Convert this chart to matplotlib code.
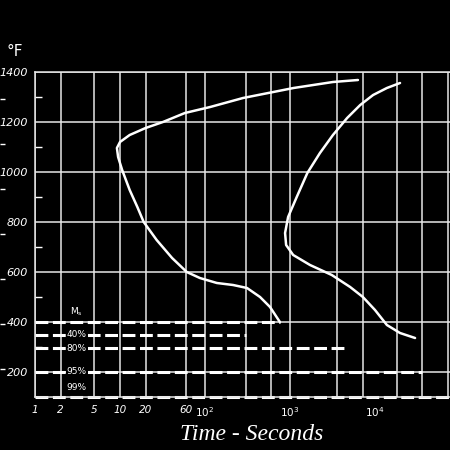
import numpy as np
import matplotlib as mpl
mpl.use('Agg')
import matplotlib.pyplot as plt

# start of transformation (time in s, temperature in F)
start_time = [6300, 3200, 1100, 280, 115, 58, 32, 20, 13, 10, 9.2, 9.5, 10.6,
              13, 16, 19, 27, 41, 61, 87, 138, 214, 312, 444, 582, 760]
start_temp = [1368, 1360, 1336, 1296, 1260, 1236, 1200, 1176, 1148, 1120, 1096,
              1060, 1008, 928, 860, 800, 728, 656, 600, 576, 556, 548, 536,
              500, 460, 400]

# end of transformation
finish_time = [19700, 13800, 9500, 6700, 4700, 3200, 2250, 1600, 1200, 950,
               875, 900, 1090, 1720, 3100, 5100, 7200, 10000, 13800, 19700, 29600]
finish_temp = [1356, 1336, 1308, 1268, 1216, 1148, 1076, 996, 900, 820, 756,
               708, 668, 628, 588, 540, 500, 448, 388, 356, 336]

# martensite lines
mart_temp = [400, 350, 295, 200, 100]
mart_end = [760, 300, 4400, 36000, 1e5]
mart_labels = ['M$_\\mathregular{s}$', '40%', '80%', '95%', '99%']
mart_label_temp = [440, 350, 295, 200, 136]

grid_time = [1, 2, 5, 10, 20, 60, 100, 300, 600, 1000, 3600, 7200, 18000,
             36000, 72000]
grid_temp = [200, 400, 600, 800, 1000, 1200, 1400]
minor_temp = [300, 500, 700, 900, 1100, 1300]
celsius_ticks = [100, 200, 300, 400, 500, 600, 700]

xtick_vals = [1, 2, 5, 10, 20, 60, 100, 1000, 10000, 100000]
xtick_labels = ['1', '2', '5', '10', '20', '60', '$10^2$', '$10^3$', '$10^4$', '$10^5$']

plt.rcParams['mathtext.default'] = 'it'

fig = plt.figure(figsize=(4.5, 4.5), dpi=100, facecolor='black')
ax = fig.add_axes([35 / 450, 53 / 450, 425 / 450, 325 / 450])
ax.set_facecolor('black')
ax.set_xscale('log')
ax.set_xlim(1, 1e5)
ax.set_ylim(100, 1400)

gc = '#e6e6e6'
for t in grid_time:
    ax.axvline(t, color=gc, lw=1.1, zorder=1)
for f in grid_temp:
    ax.axhline(f, color=gc, lw=1.1, zorder=1)

for side in ['left', 'bottom', 'top']:
    ax.spines[side].set_color(gc)
    ax.spines[side].set_linewidth(1.1)
ax.spines['right'].set_visible(False)

ax.plot(start_time, start_temp, color='white', lw=1.8, zorder=3,
        solid_joinstyle='round', solid_capstyle='round')
ax.plot(finish_time, finish_temp, color='white', lw=1.8, zorder=3,
        solid_joinstyle='round', solid_capstyle='round')

for f, end in zip(mart_temp, mart_end):
    ax.plot([1, end], [f, f], color='white', lw=2.2, zorder=2,
            linestyle=(0, (4.2, 1.5)), clip_on=False)

for lab, f in zip(mart_labels, mart_label_temp):
    ax.text(3.1, f, lab, color='white', fontsize=6.5, ha='center', va='center',
            zorder=4, bbox=dict(facecolor='black', edgecolor='none', pad=0.6))

ax.set_xticks(xtick_vals)
ax.set_xticklabels(xtick_labels)
ax.xaxis.set_minor_locator(mpl.ticker.NullLocator())
ax.tick_params(axis='x', length=0, pad=6, labelsize=7.5, colors='white')

ax.set_yticks(grid_temp)
ax.set_yticklabels([str(f) for f in grid_temp], style='italic')
ax.set_yticks(minor_temp, minor=True)
ax.tick_params(axis='y', which='major', length=0, pad=5, labelsize=8, colors='white')
ax.tick_params(axis='y', which='minor', length=5, width=1, direction='in', color='white')
for lab in ax.get_xticklabels():
    lab.set_style('italic')

# celsius scale, labels cut off on the left edge
sec = ax.secondary_yaxis(-35 / 425, functions=(lambda f: (f - 32) / 1.8,
                                               lambda c: c * 1.8 + 32))
sec.set_yticks(celsius_ticks)
sec.set_yticklabels([])
sec.spines['left'].set_visible(False)
sec.tick_params(length=3.6, width=1, direction='in', color='white')

fig.text(6 / 450, 1 - 52 / 450, '°F', color='white', fontsize=11, va='center')
fig.text(252 / 450, 1 - 434 / 450, 'Time - Seconds', color='white',
         fontsize=17, style='italic', family='Liberation Serif',
         ha='center', va='center')

plt.savefig('out.png', dpi=100, facecolor='black')
